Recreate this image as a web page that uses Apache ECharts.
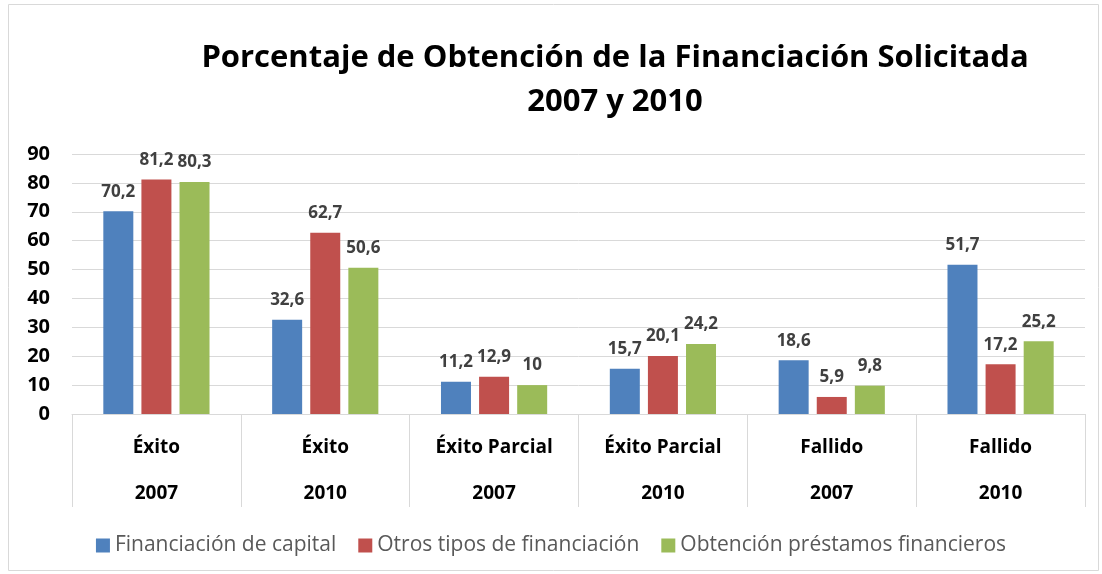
<!DOCTYPE html>
<html><head><meta charset="utf-8">
<script src="https://cdn.jsdelivr.net/npm/echarts@6/dist/echarts.min.js"></script>
<style>html,body{margin:0;padding:0;background:#fff}#c{width:1102px;height:574px}</style>
</head><body><div id="c"></div>
<script>
const categories = ['Éxito\n\n2007','Éxito\n\n2010','Éxito Parcial\n\n2007','Éxito Parcial\n\n2010','Fallido\n\n2007','Fallido\n\n2010'];
const seriesNames = ['Financiación de capital','Otros tipos de financiación','Obtención préstamos financieros'];
const capital = [70.2, 32.6, 11.2, 15.7, 18.6, 51.7];
const otros = [81.2, 62.7, 12.9, 20.1, 5.9, 17.2];
const prestamos = [80.3, 50.6, 10, 24.2, 9.8, 25.2];
const yTicks = [0,10,20,30,40,50,60,70,80,90];
const colors = ['#4f81bd','#c0504d','#9bbb59'];
const font = 'Open Sans';
const chart = echarts.init(document.getElementById('c'));
const mk = (name, data, i) => ({
  name, type:'bar', data, barWidth:30, barGap:'27%',
  itemStyle:{color:colors[i]},
  label:{show:true, position:'top', distance:11, fontFamily:font, fontWeight:'bold', fontSize:17, color:'#404040',
    formatter:p=>String(p.value).replace('.',',')}
});
chart.setOption({
  animation:false,
  graphic:[{type:'rect', shape:{x:8.5,y:4.5,width:1090,height:566}, style:{fill:'none', stroke:'#d9d9d9', lineWidth:1}, silent:true}],
  title:{text:'Porcentaje de Obtención de la Financiación Solicitada\n2007 y 2010', left:610, top:31, textAlign:'center',
    textStyle:{fontFamily:font, fontWeight:'bold', fontSize:31, color:'#000', lineHeight:44}},
  legend:{bottom:13, left:'center', itemWidth:14, itemHeight:14, itemGap:22, icon:'rect',
    textStyle:{fontFamily:font, fontSize:21, color:'#595959'}, data:seriesNames},
  grid:{left:72, right:17, top:154, bottom:160},
  xAxis:{type:'category', data:categories,
    axisLine:{lineStyle:{color:'#d9d9d9', width:1}},
    axisTick:{show:true, length:93, lineStyle:{color:'#d9d9d9'}},
    axisLabel:{fontFamily:font, fontWeight:'bold', fontSize:19, color:'#000', lineHeight:23, margin:22}},
  yAxis:{type:'value', min:0, max:90, interval:10,
    axisLine:{show:false}, axisTick:{show:false},
    splitLine:{lineStyle:{color:'#d9d9d9'}},
    axisLabel:{fontFamily:font, fontWeight:'bold', fontSize:20, color:'#000', margin:22,
      formatter:v=>yTicks.includes(v)?String(v):''}},
  series:[mk(seriesNames[0],capital,0), mk(seriesNames[1],otros,1), mk(seriesNames[2],prestamos,2)]
});
</script></body></html>
